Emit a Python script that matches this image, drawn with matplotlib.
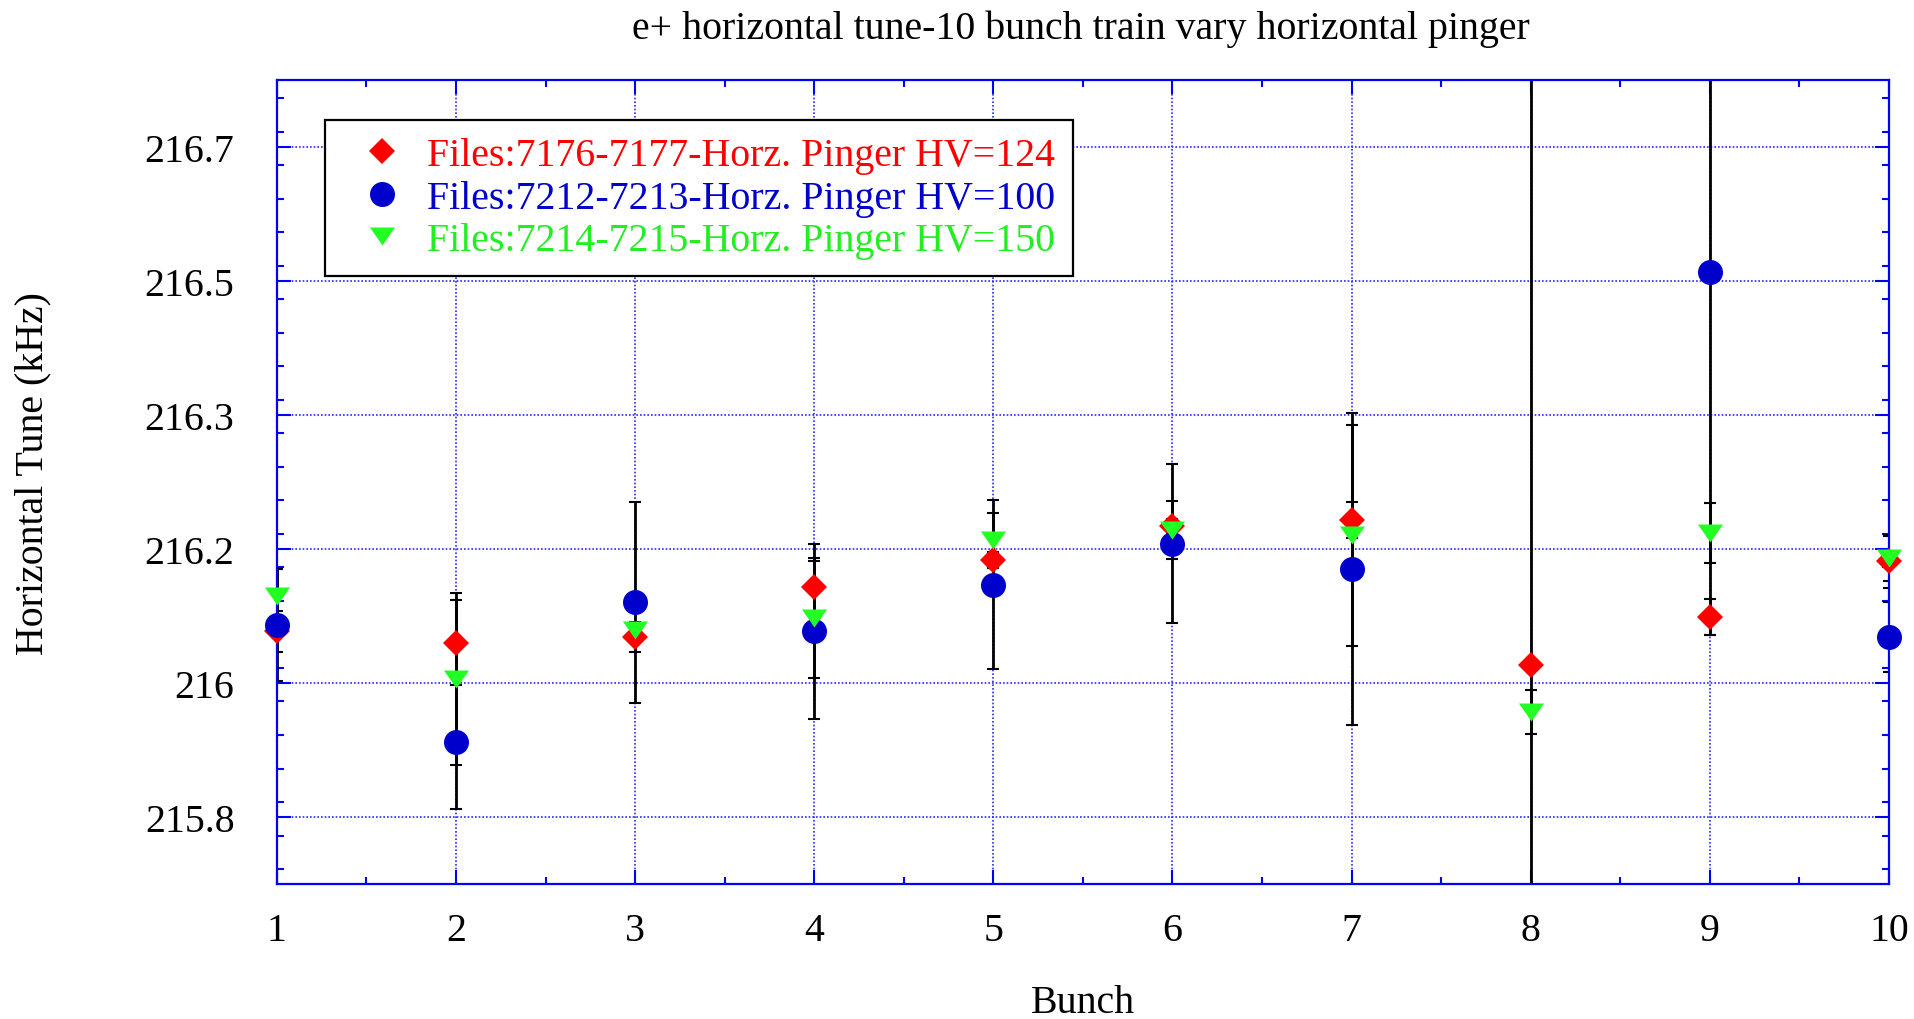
import numpy as np
import matplotlib
matplotlib.use("Agg")
import matplotlib.pyplot as plt
from matplotlib.ticker import FixedLocator, MultipleLocator

plt.rcParams["font.family"] = "serif"
plt.rcParams["font.serif"] = ["Liberation Serif"]

# ---- data -------------------------------------------------------------
bunch = [1, 2, 3, 4, 5, 6, 7, 8, 9, 10]

tune_hv124 = [216.049, 216.034, 216.042, 216.109, 216.145, 216.190, 216.199, 216.004, 216.068, 216.143]
err_hv124 = [0.027, 0.057, 0.020, 0.035, 0.011, 0.010, 0.024, 0.950, 0.024, 0.035]

tune_hv100 = [216.058, 215.900, 216.088, 216.049, 216.112, 216.167, 216.133, np.nan, 216.532, 216.041]
err_hv100 = [0.075, 0.090, 0.135, 0.118, 0.114, 0.107, 0.209, np.nan, 0.488, 0.047]

tune_hv150 = [216.096, 215.985, 216.051, 216.067, 216.172, 216.185, 216.178, 215.941, 216.181, 216.147]
err_hv150 = [0.037, 0.115, 0.010, 0.080, 0.036, 0.039, 0.148, 0.030, 0.040, 0.030]

labels = ["Files:7176-7177-Horz. Pinger HV=124",
          "Files:7212-7213-Horz. Pinger HV=100",
          "Files:7214-7215-Horz. Pinger HV=150"]

y_ticks = [215.80, 215.98, 216.16, 216.34, 216.52, 216.70]
y_tick_labels = ["215.8", "216", "216.2", "216.3", "216.5", "216.7"]
x_ticks = bunch
x_tick_labels = [str(b) for b in bunch]

title = "e+ horizontal tune-10 bunch train vary horizontal pinger"
xlabel = "Bunch"
ylabel = "Horizontal Tune (kHz)"

# ---- styling ----------------------------------------------------------
FS = 28.7
AXIS_BLUE = "#0000ff"
GRID_BLUE = "#2a2aff"
tri_down = [(-1.0, 0.72), (1.0, 0.72), (0.0, -0.72), (-1.0, 0.72)]

series = [
    (tune_hv124, err_hv124, "D", 13.2, "#ff0000", "#ff0000", labels[0]),
    (tune_hv100, err_hv100, "o", 18.0, "#0000cc", "#0000cc", labels[1]),
    (tune_hv150, err_hv150, tri_down, 18.0, "#22ff22", "#22ee22", labels[2]),
]

fig = plt.figure(figsize=(19.15, 10.20), dpi=100)
ax = fig.add_axes([0.1446, 0.1324, 0.8418, 0.7886])

for y, e, mk, ms, col, tcol, lab in series:
    ax.errorbar(bunch, y, yerr=e, fmt="none", ecolor="black",
                elinewidth=2.0, capsize=4.3, capthick=1.5, zorder=2)

handles = []
for i, (y, e, mk, ms, col, tcol, lab) in enumerate(series):
    h, = ax.plot(bunch, y, linestyle="none", marker=mk, markersize=ms,
                 color=col, markeredgewidth=0, clip_on=False,
                 zorder=3 + i, label=lab)
    handles.append(h)

ax.set_xlim(1, 10)
ax.set_ylim(215.71, 216.79)

ax.xaxis.set_major_locator(FixedLocator(x_ticks))
ax.set_xticklabels(x_tick_labels)
ax.xaxis.set_minor_locator(MultipleLocator(0.5))
ax.yaxis.set_major_locator(FixedLocator(y_ticks))
ax.set_yticklabels(y_tick_labels)
ax.yaxis.set_minor_locator(MultipleLocator(0.045))

ax.tick_params(which="both", direction="in", top=True, right=True,
               color=AXIS_BLUE, width=1.5, labelsize=FS, labelcolor="black")
ax.tick_params(which="major", length=10)
ax.tick_params(which="minor", length=5)
ax.tick_params(axis="y", which="major", pad=30.6)
ax.tick_params(axis="x", which="major", pad=20.5)

for sp in ax.spines.values():
    sp.set_color(AXIS_BLUE)
    sp.set_linewidth(1.6)

ax.set_axisbelow(True)
ax.grid(True, which="major", color=GRID_BLUE, linestyle=(0, (1.0, 1.2)),
        linewidth=1.2)

ax.set_ylabel(ylabel, fontsize=FS, va="center", family="Liberation Serif")
ax.yaxis.set_label_coords(-0.1514, 0.5116)
ax.set_xlabel(xlabel, fontsize=FS, va="center", family="Liberation Serif")
ax.xaxis.set_label_coords(0.5, -0.148)

fig.text(0.5646, 1 - 39.3 / 1020, title, fontsize=FS, ha="center",
         va="baseline", family="Liberation Serif")

leg = ax.legend(handles=handles, loc="upper left",
                bbox_to_anchor=(0.0298, 0.950), borderaxespad=0,
                prop={"family": "Liberation Serif", "size": FS},
                numpoints=1, handlelength=2.0,
                handletextpad=0.14, borderpad=0.43, labelspacing=0.14,
                fancybox=False, framealpha=1, edgecolor="black",
                labelcolor=[s[5] for s in series])
leg.get_frame().set_linewidth(1.6)
leg.set_zorder(10)

fig.savefig("out.png", dpi=100)
